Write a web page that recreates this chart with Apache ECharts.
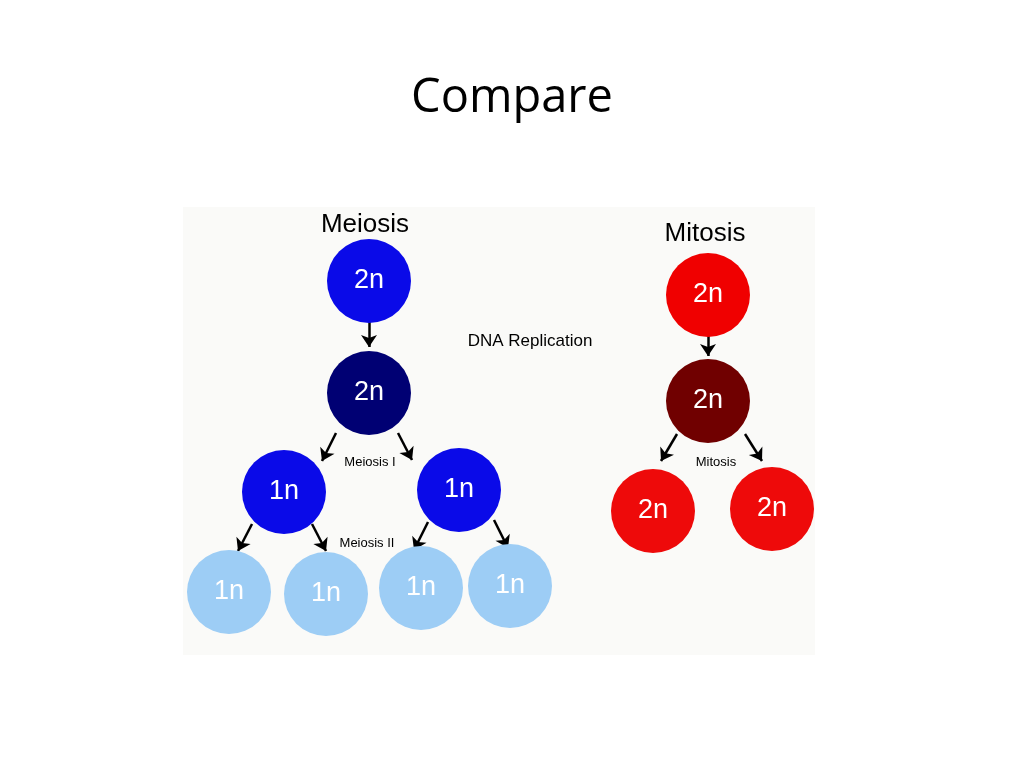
<!DOCTYPE html>
<html><head><meta charset="utf-8">
<script src="https://cdn.jsdelivr.net/npm/echarts@6/dist/echarts.min.js"></script>
<style>html,body{margin:0;padding:0;background:#fff}#c{width:1024px;height:768px}</style>
</head><body><div id="c"></div>
<script>
const nodeLabels = ['2n','2n','1n','1n','1n','1n','1n','1n','2n','2n','2n','2n'];
const nodeX = [369,369,284,459,229,326,421,510,708,708,653,772];
const nodeY = [281,393,492,490,592,594,588,586,295,401,511,509];
const nodeColors = ['#0a0ae8','#000073','#0a0ae8','#0a0ae8','#9dcdf5','#9dcdf5','#9dcdf5','#9dcdf5','#f00000','#700000','#ee0a0a','#ee0a0a'];
const arrows = [
  [[369,322],[369,347]],
  [[336,433],[322,461]],[[398,433],[412,460]],
  [[252,524],[238,551]],[[312,524],[326,551]],[[428,522],[414,550]],[[494,520],[508,548]],
  [[708,335],[708,356]],[[677,434],[661,461]],[[745,434],[762,461]]
];
const textLabels = ['Meiosis','Mitosis','DNA Replication','Meiosis I','Meiosis II','Mitosis'];
const textX = [365,705,530,370,367,716];
const textY = [225,234,341,462,543,462];
const textSizes = [26,26,17,13,13,13];

const chart = echarts.init(document.getElementById('c'));
chart.setOption({
  animation:false,
  grid:{left:0,right:0,top:0,bottom:0},
  xAxis:{type:'value',min:0,max:1024,show:false},
  yAxis:{type:'value',min:0,max:768,inverse:true,show:false},
  title:{text:'Compare',left:'center',top:70,textStyle:{fontFamily:'Open Sans',fontWeight:'normal',fontSize:47,color:'#000'}},
  graphic:[{type:'rect',shape:{x:183,y:207,width:632,height:448},style:{fill:'#fafaf8'},z:-10}],
  series:[
    {type:'scatter',symbol:'circle',symbolSize:84,z:3,itemStyle:{opacity:1},
     data:nodeLabels.map((l,i)=>({value:[nodeX[i],nodeY[i]],itemStyle:{color:nodeColors[i],opacity:1},
       label:{show:true,formatter:l,position:'inside',color:'#fff',fontSize:27,fontFamily:'Liberation Sans'}}))},
    {type:'lines',coordinateSystem:'cartesian2d',z:2,symbol:['none','arrow'],symbolSize:12,
     lineStyle:{color:'#000',width:2.5,opacity:1},
     data:arrows.map(a=>({coords:a}))},
    {type:'scatter',symbolSize:0,z:4,itemStyle:{opacity:1},
     data:textLabels.map((t,i)=>({value:[textX[i],textY[i]],
       label:{show:true,position:'inside',formatter:t,color:'#000',fontSize:textSizes[i],fontFamily:'Liberation Sans'}}))}
  ]
});
</script></body></html>
